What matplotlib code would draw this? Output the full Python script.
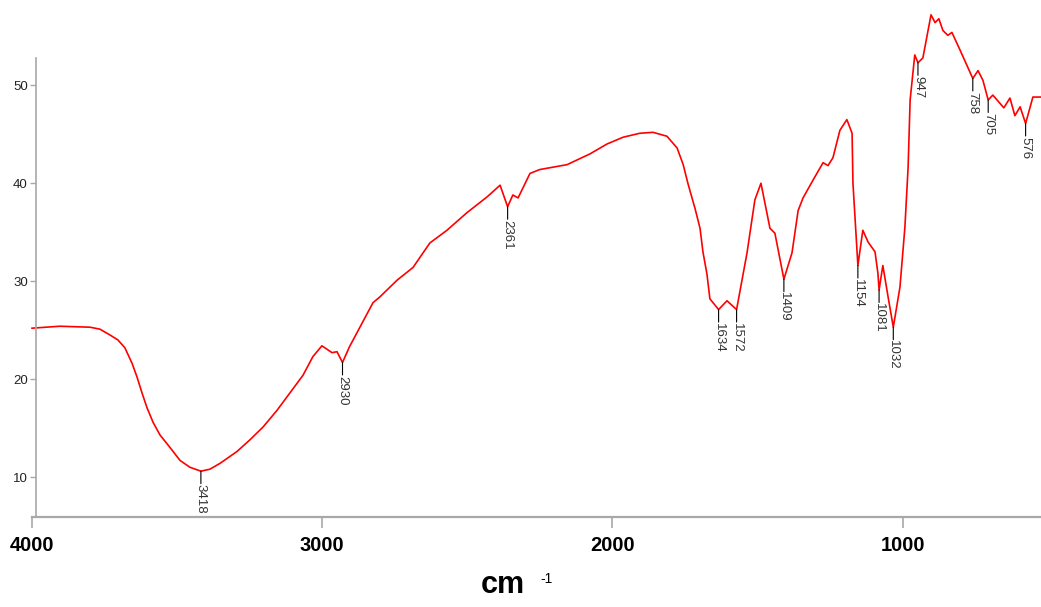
import numpy as np
import matplotlib.pyplot as plt

# FTIR transmittance spectrum (wavenumber in cm-1, decreasing)
wavenumber = [4000, 3904, 3800, 3766, 3731, 3704, 3680, 3655, 3638, 3621,
              3604, 3583, 3559, 3524, 3490, 3456, 3418, 3387, 3352, 3294,
              3249, 3204, 3156, 3111, 3066, 3032, 3001, 2966, 2949, 2930,
              2906, 2825, 2801, 2742, 2687, 2629, 2570, 2501, 2432, 2387,
              2361, 2343, 2325, 2284, 2250, 2156, 2077, 2019, 1963, 1906,
              1860, 1812, 1777, 1756, 1739, 1715, 1698, 1688, 1674, 1664,
              1634, 1605, 1572, 1536, 1509, 1488, 1457, 1440, 1409, 1381,
              1360, 1343, 1309, 1274, 1257, 1240, 1216, 1192, 1174, 1171,
              1154, 1137, 1119, 1095, 1085, 1081, 1068, 1050, 1032, 1009,
              992, 981, 974, 958, 947, 930, 902, 888, 875, 861,
              844, 830, 802, 758, 740, 723, 705, 689, 651, 630,
              613, 595, 576, 551, 523]
transmittance = [25.2, 25.4, 25.3, 25.1, 24.5, 24.0, 23.2, 21.6, 20.2, 18.6,
                 17.1, 15.6, 14.3, 13.0, 11.7, 11.0, 10.6, 10.8, 11.4, 12.6,
                 13.8, 15.1, 16.8, 18.6, 20.4, 22.3, 23.4, 22.7, 22.8, 21.7,
                 23.3, 27.8, 28.4, 30.1, 31.4, 33.9, 35.2, 37.0, 38.6, 39.8,
                 37.6, 38.8, 38.5, 41.0, 41.4, 41.9, 43.0, 44.0, 44.7, 45.1,
                 45.2, 44.8, 43.6, 41.9, 39.9, 37.4, 35.4, 33.0, 30.7, 28.2,
                 27.1, 28.0, 27.1, 32.9, 38.3, 40.0, 35.4, 34.9, 30.2, 32.9,
                 37.2, 38.5, 40.3, 42.1, 41.8, 42.6, 45.4, 46.5, 45.1, 40.0,
                 31.6, 35.2, 34.0, 33.0, 30.8, 29.1, 31.6, 28.4, 25.3, 29.4,
                 35.5, 41.6, 48.5, 53.1, 52.3, 52.8, 57.2, 56.4, 56.8, 55.6,
                 55.1, 55.4, 53.6, 50.7, 51.5, 50.5, 48.5, 49.0, 47.7, 48.7,
                 46.9, 47.8, 46.1, 48.8, 48.8]

peaks = [3418, 2930, 2361, 1634, 1572, 1409, 1154, 1081, 1032, 947, 758, 705, 576]
x_ticks = [4000, 3000, 2000, 1000]
y_ticks = [10, 20, 30, 40, 50]

narrow = ['Liberation Sans Narrow', 'Liberation Sans', 'DejaVu Sans']
arial = ['Liberation Sans', 'DejaVu Sans']
axis_grey = '#a8a8a8'

fig = plt.figure(figsize=(10.41, 6.07), dpi=100)
ax = fig.add_axes([32 / 1041, 90 / 607, 1009 / 1041, 512 / 607])

ax.plot(wavenumber, transmittance, color='#ff0000', lw=1.2, clip_on=False)
ax.set_xlim(4000, 523)
ax.set_ylim(5.92, 58.2)

# peak markers: short black stem under each band, value written downwards
wn_up = np.array(wavenumber[::-1])
tr_up = np.array(transmittance[::-1])
for p in peaks:
    y = np.interp(p, wn_up, tr_up)
    ax.annotate('', xy=(p, y), xytext=(0, -9), textcoords='offset points',
                arrowprops=dict(arrowstyle='-', color='black', lw=0.8,
                                shrinkA=0, shrinkB=0))
    ax.annotate(str(p), xy=(p, y), xytext=(0, -9.5), textcoords='offset points',
                rotation=270, ha='center', va='top', fontsize=9.5,
                color='#333333', family=narrow)

for side in ('top', 'right'):
    ax.spines[side].set_visible(False)
ax.spines['left'].set_position(('data', 3986))
ax.spines['left'].set_bounds(5.92, 52.8)
ax.spines['left'].set_color(axis_grey)
ax.spines['left'].set_linewidth(1.2)
ax.spines['bottom'].set_color(axis_grey)
ax.spines['bottom'].set_linewidth(1.6)

ax.set_xticks(x_ticks)
ax.set_xticklabels([str(t) for t in x_ticks], fontsize=14.5, fontweight='bold',
                   family=arial)
ax.set_yticks(y_ticks)
ax.set_yticklabels([str(t) for t in y_ticks], fontsize=9.5, color='#222222',
                   family=narrow)
ax.tick_params(axis='x', length=8, width=1.2, color=axis_grey, pad=6)
ax.tick_params(axis='y', length=4, width=1, color=axis_grey, pad=2)

fig.text(0.483, 0.012, 'cm', fontsize=22, fontweight='bold', ha='center',
         va='bottom', family=arial)
fig.text(0.519, 0.035, '-1', fontsize=10, ha='left', va='bottom', family=arial)

fig.savefig('out.png', dpi=100)
